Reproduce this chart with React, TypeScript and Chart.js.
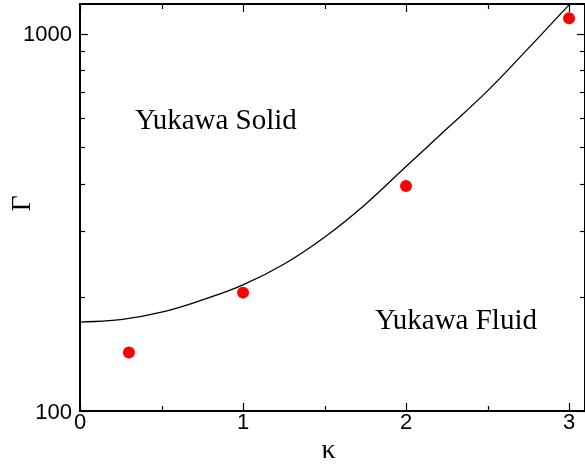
import React, { useEffect, useRef } from "react";
import { Chart, registerables } from "chart.js";

Chart.register(...registerables);

// Red simulation points
const kappaPoints = [0.3, 1, 2, 3];
const gammaPoints = [143, 206, 395, 1100];

// Melting curve
const kappaCurve = [0, 0.25, 0.5, 0.75, 1.0, 1.25, 1.5, 1.75, 2.0, 2.25, 2.5, 2.75, 3.0];
const gammaCurve = [172, 174.6, 182.8, 197, 216, 245, 289, 353, 445, 560, 706, 915, 1194];

// Axis ticks
const xMajorTicks = [0, 1, 2, 3];
const xTickLabels = ["0", "1", "2", "3"];
const xMinorTicks = [0.5, 1.5, 2.5];
const yMajorTicks = [100, 1000];
const yTickLabels = ["100", "1000"];
const yMinorTicks = [200, 300, 400, 500, 600, 700, 800, 900];

// Region labels (text, kappa, gamma at baseline-left)
const regionLabels = ["Yukawa Solid", "Yukawa Fluid"];
const regionKappa = [0.337, 1.81];
const regionGamma = [558, 164.7];

const X_MIN = 0;
const X_MAX = 3.098;
const Y_MIN = 100;
const Y_MAX = 1200;

const framePlugin = {
  id: "frameAxes",
  afterDatasetsDraw(chart: any) {
    const { ctx, chartArea: a, scales } = chart;
    const xs = scales.x;
    const ys = scales.y;
    ctx.save();
    ctx.strokeStyle = "#000";
    ctx.fillStyle = "#000";

    const seg = (x1: number, y1: number, x2: number, y2: number) => {
      ctx.beginPath();
      ctx.moveTo(x1, y1);
      ctx.lineTo(x2, y2);
      ctx.stroke();
    };

    // ticks
    ctx.lineWidth = 1.2;
    xMajorTicks.forEach((v) => {
      const px = Math.round(xs.getPixelForValue(v)) + 0.5;
      seg(px, a.bottom, px, a.bottom - 8);
      seg(px, a.top, px, a.top + 8);
    });
    xMinorTicks.forEach((v) => {
      const px = Math.round(xs.getPixelForValue(v)) + 0.5;
      seg(px, a.bottom, px, a.bottom - 5);
      seg(px, a.top, px, a.top + 5);
    });
    yMajorTicks.forEach((v) => {
      const py = Math.round(ys.getPixelForValue(v)) + 0.5;
      seg(a.left, py, a.left + 8, py);
      seg(a.right, py, a.right - 8, py);
    });
    yMinorTicks.forEach((v) => {
      const py = Math.round(ys.getPixelForValue(v)) + 0.5;
      seg(a.left, py, a.left + 5, py);
      seg(a.right, py, a.right - 5, py);
    });

    // frame
    ctx.lineWidth = 2;
    ctx.strokeRect(a.left, a.top, a.right - a.left, a.bottom - a.top);

    // tick labels
    ctx.font = "22px 'Liberation Sans', Arial, sans-serif";
    ctx.textBaseline = "alphabetic";
    ctx.textAlign = "center";
    xMajorTicks.forEach((v, i) => {
      const px = xs.getPixelForValue(v);
      ctx.fillText(xTickLabels[i], px, a.bottom + 18);
    });
    ctx.textAlign = "right";
    yMajorTicks.forEach((v, i) => {
      const py = ys.getPixelForValue(v);
      ctx.fillText(yTickLabels[i], a.left - 8, py + 7.5);
    });

    // axis titles
    ctx.font = "28px 'Liberation Serif', 'Times New Roman', serif";
    ctx.textAlign = "center";
    ctx.fillText("\u03BA", (a.left + a.right) / 2 - 4, 458);
    ctx.save();
    ctx.translate(30, (a.top + a.bottom) / 2 - 4);
    ctx.rotate(-Math.PI / 2);
    ctx.fillText("\u0393", 0, 0);
    ctx.restore();

    // region labels
    ctx.font = "29px 'Liberation Serif', 'Times New Roman', serif";
    ctx.textAlign = "left";
    regionLabels.forEach((t, i) => {
      ctx.fillText(t, xs.getPixelForValue(regionKappa[i]), ys.getPixelForValue(regionGamma[i]));
    });

    ctx.restore();
  },
};

export default function App() {
  const ref = useRef<HTMLCanvasElement | null>(null);
  useEffect(() => {
    document.body.style.margin = "0";
    const canvas = ref.current;
    if (!canvas) return;
    const chart = new Chart(canvas, {
      type: "scatter",
      data: {
        datasets: [
          {
            type: "line",
            data: kappaCurve.map((k, i) => ({ x: k, y: gammaCurve[i] })),
            borderColor: "#000",
            borderWidth: 1.3,
            pointRadius: 0,
            fill: false,
            tension: 0.4,
          } as any,
          {
            type: "scatter",
            data: kappaPoints.map((k, i) => ({ x: k, y: gammaPoints[i] })),
            backgroundColor: "#ff0000",
            borderColor: "#ff0000",
            pointRadius: 6,
            borderWidth: 0,
          } as any,
        ],
      },
      options: {
        animation: false,
        responsive: false,
        devicePixelRatio: 1,
        layout: { autoPadding: false, padding: { left: 80, top: 4, right: 0, bottom: 55 } },
        plugins: { legend: { display: false }, tooltip: { enabled: false }, title: { display: false } },
        scales: {
          x: { type: "linear", min: X_MIN, max: X_MAX, display: false },
          y: { type: "logarithmic", min: Y_MIN, max: Y_MAX, display: false },
        },
      },
      plugins: [framePlugin],
    });
    return () => chart.destroy();
  }, []);
  return <canvas ref={ref} width={585} height={466} style={{ display: "block" }} />;
}
